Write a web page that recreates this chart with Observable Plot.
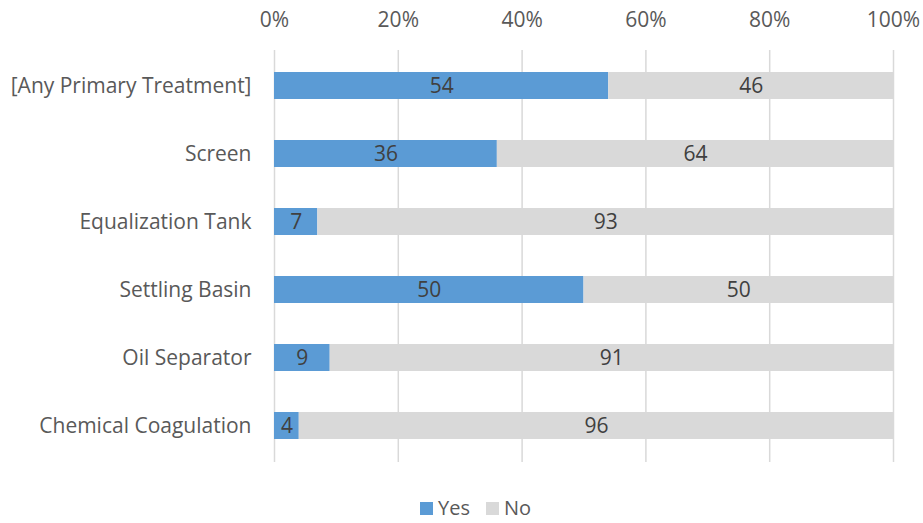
<!DOCTYPE html>
<html>
<head>
<meta charset="utf-8">
<script src="https://cdn.jsdelivr.net/npm/d3@7"></script>
<script src="https://cdn.jsdelivr.net/npm/@observablehq/plot@0.6"></script>
<style>
  html, body { margin: 0; padding: 0; background: #fff; }
  body { width: 923px; height: 523px; overflow: hidden; font-family: "Open Sans", sans-serif; }
  #chart svg { display: block; }
  #legend { display: flex; justify-content: center; align-items: center; gap: 16px; font-size: 20px; line-height: 20px; color: #595959; height: 20px; margin-top: 8px; margin-left: 28px; }
  .sw { display: inline-block; width: 13px; height: 13px; margin-right: 5px; }
  .item { display: flex; align-items: center; line-height: 20px; }
</style>
</head>
<body>
<div id="chart"></div>
<div id="legend"></div>
<script>
const categories = ["[Any Primary Treatment]", "Screen", "Equalization Tank", "Settling Basin", "Oil Separator", "Chemical Coagulation"];
const yesValues = [54, 36, 7, 50, 9, 4];
const noValues = [46, 64, 93, 50, 91, 96];
const seriesNames = ["Yes", "No"];
const seriesColors = ["#5B9BD5", "#D9D9D9"];
const xTicks = [0, 20, 40, 60, 80, 100];

const data = [];
categories.forEach((c, i) => {
  data.push({category: c, series: "Yes", value: yesValues[i]});
  data.push({category: c, series: "No", value: noValues[i]});
});

const textColor = "#595959";

const chart = Plot.plot({
  width: 923,
  height: 490,
  marginTop: 50,
  marginBottom: 28,
  marginLeft: 274,
  marginRight: 30,
  style: {fontFamily: "Open Sans, sans-serif", fontSize: "21px", color: textColor, background: "white"},
  x: {domain: [0, 100]},
  y: {domain: categories, padding: 0.6, paddingOuter: 0.3},
  color: {domain: seriesNames, range: seriesColors},
  marks: [
    Plot.ruleX(xTicks, {stroke: "#d9d9d9", strokeWidth: 1.5}),
    Plot.barX(data, Plot.stackX({x: "value", y: "category", fill: "series", z: "series"})),
    Plot.text(data, Plot.stackX({x: "value", y: "category", z: "series", text: d => String(d.value), fill: "#404040", fontSize: 21})),
    Plot.axisX(xTicks, {anchor: "top", tickSize: 0, tickPadding: 24, tickFormat: d => d + "%", fontSize: 21, fill: textColor, label: null}),
    Plot.axisY({tickSize: 0, tickPadding: 23, fontSize: 21, fill: textColor, label: null})
  ]
});
document.getElementById("chart").appendChild(chart);

const legend = document.getElementById("legend");
seriesNames.forEach((s, i) => {
  const item = document.createElement("span");
  item.className = "item";
  const sw = document.createElement("span");
  sw.className = "sw";
  sw.style.background = seriesColors[i];
  item.appendChild(sw);
  item.appendChild(document.createTextNode(s));
  legend.appendChild(item);
});
</script>
</body>
</html>
